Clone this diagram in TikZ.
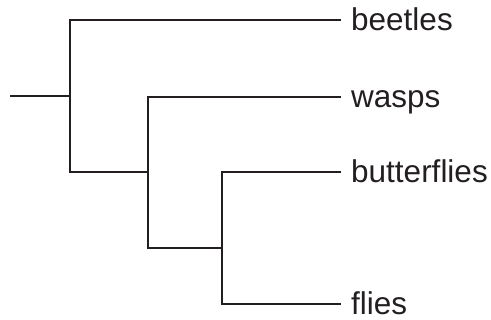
\documentclass[tikz,border=0pt]{standalone}
\usepackage{fontspec}
\setmainfont{Liberation Sans}
\definecolor{ink}{HTML}{231F20}
\begin{document}
\begin{tikzpicture}[x=1pt,y=-1pt,
  branch/.style={draw=ink,line width=1.7pt,line cap=butt,line join=miter},
  taxon/.style={anchor=base west,inner sep=0pt,text=ink,font=\fontsize{31.5}{36}\selectfont}]
\useasboundingbox (0,0) rectangle (491,320);
% internal nodes of the tree
\coordinate (root) at (10,96);
\coordinate (a) at (70,96);
\coordinate (b) at (148,172);
\coordinate (c) at (222,248);
% tips
\coordinate (tbeetles) at (341,20);
\coordinate (twasps) at (341,97);
\coordinate (tbutter) at (341,172);
\coordinate (tflies) at (341,304);
% labels
\node[taxon] (lbeetles) at (351,30.5) {beetles};
\node[taxon] (lwasps) at (351,107.5) {wasps};
\node[taxon] (lbutter) at (351,182.5) {butterflies};
\node[taxon] (lflies) at (351,314.5) {flies};
% branches
\draw[branch] (root) -- (a);
\draw[branch] (tbeetles) -| (a) |- (b);
\draw[branch] (twasps) -| (b) |- (c);
\draw[branch] (tbutter) -| (c) |- (tflies);
\end{tikzpicture}
\end{document}
